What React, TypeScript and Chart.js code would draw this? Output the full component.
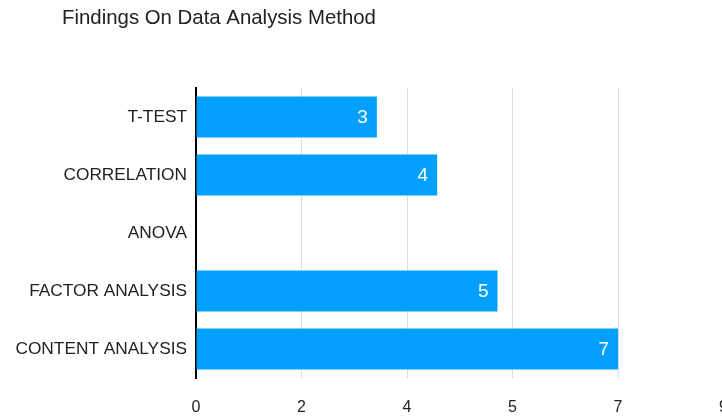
import React, { useEffect, useRef } from "react";
import { Chart, registerables } from "chart.js";

Chart.register(...registerables);

const TITLE = "Findings On Data Analysis Method";
const categories = ["T-TEST", "CORRELATION", "ANOVA", "FACTOR ANALYSIS", "CONTENT ANALYSIS"];
const counts = [3, 4, 0, 5, 7];
const xTickLabels = ["0", "2", "4", "5", "7", "9"];
const xMax = 8.75;
const xStep = 1.75;

const FONT = "'Liberation Sans', Arial, sans-serif";
const BAR_COLOR = "#02a0fc";

const titlePlugin = {
  id: "customTitle",
  afterDraw(chart: any) {
    const ctx = chart.ctx;
    ctx.save();
    ctx.font = `20.4px ${FONT}`;
    ctx.fillStyle = "#222";
    ctx.textAlign = "left";
    ctx.textBaseline = "middle";
    ctx.fillText(TITLE, 62, 18);
    ctx.restore();
  },
};

const valueLabelPlugin = {
  id: "valueLabels",
  afterDatasetsDraw(chart: any) {
    const ctx = chart.ctx;
    const meta = chart.getDatasetMeta(0);
    ctx.save();
    ctx.font = `19px ${FONT}`;
    ctx.fillStyle = "#ffffff";
    ctx.textAlign = "right";
    ctx.textBaseline = "middle";
    meta.data.forEach((bar: any, i: number) => {
      const v = chart.data.datasets[0].data[i];
      if (!v) return;
      ctx.fillText(String(v), bar.x - 9, bar.y + 1);
    });
    ctx.restore();
  },
};

export default function App() {
  const canvasRef = useRef<HTMLCanvasElement | null>(null);

  useEffect(() => {
    const canvas = canvasRef.current;
    if (!canvas) return;
    const chart = new Chart(canvas, {
      type: "bar",
      data: {
        labels: categories,
        datasets: [
          {
            data: counts,
            backgroundColor: BAR_COLOR,
            borderWidth: 0,
            barPercentage: 0.71,
            categoryPercentage: 1,
          },
        ],
      },
      options: {
        indexAxis: "y",
        responsive: false,
        animation: false,
        layout: { padding: { top: 88, right: 15.5, bottom: 4, left: 0 } },
        plugins: {
          legend: { display: false },
          title: { display: false },
          tooltip: { enabled: false },
        },
        scales: {
          x: {
            min: 0,
            max: xMax,
            ticks: {
              stepSize: xStep,
              color: "#222",
              font: { family: FONT, size: 16 },
              padding: 20,
              autoSkip: false,
              callback: (_v: any, i: number) => xTickLabels[i],
            },
            grid: { color: "#dddddd", drawTicks: false, lineWidth: 1 },
            border: { display: false },
            afterFit: (scale: any) => {
              scale.height = 37;
            },
          },
          y: {
            ticks: {
              color: "#222",
              font: { family: FONT, size: 17.3 },
              padding: 9,
            },
            grid: { display: false, drawTicks: false },
            border: { display: true, color: "#000000", width: 2 },
            afterFit: (scale: any) => {
              scale.width = 196;
            },
          },
        },
      },
      plugins: [titlePlugin, valueLabelPlugin],
    });
    return () => chart.destroy();
  }, []);

  return (
    <div
      style={{
        position: "fixed",
        left: 0,
        top: 0,
        width: 722,
        height: 419,
        overflow: "hidden",
        background: "#fff",
      }}
    >
      <canvas ref={canvasRef} width={748} height={419} style={{ display: "block" }} />
    </div>
  );
}
